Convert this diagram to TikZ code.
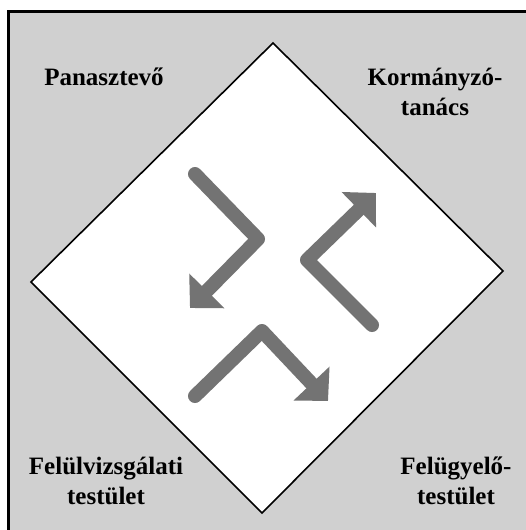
\documentclass[tikz,border=0pt]{standalone}
\usepackage{fontspec}
\setmainfont{Liberation Serif}
\usetikzlibrary{arrows.meta}
\definecolor{bggray}{RGB}{208,208,208}
\definecolor{arrowgray}{RGB}{115,115,115}

\begin{document}
\begin{tikzpicture}[x=1pt, y=-1pt,
  label/.style={font=\bfseries\fontsize{25}{30}\selectfont, align=center, inner sep=0pt},
  flow/.style={arrowgray, line width=14pt, line cap=round, line join=round,
    -{Triangle[length=24pt 0 0, width=48pt 0 0]}}]
  \useasboundingbox (0,0) rectangle (526,530);
  \fill[bggray] (8.5,11.5) rectangle (526,530);
  \draw[line width=3pt] (8.5,530) -- (8.5,11.5) -- (526,11.5);
  % diamond
  \draw[fill=white, line width=1.6pt] (273,43) -- (503,271) -- (262,513) -- (31,282) -- cycle;
  % labels
  \node[label] (pan) at (104,77) {Panasztevő};
  \node[label] (kor) at (435,92) {Kormányzó-\\tanács};
  \node[label] (fel) at (106,481) {Felülvizsgálati\\testület};
  \node[label] (fug) at (456,481) {Felügyelő-\\testület};
  % arrows
  \coordinate (a1) at (195,174); \coordinate (a1c) at (258,239); \coordinate (a1t) at (190,308);
  \coordinate (a2) at (372,325); \coordinate (a2c) at (307,260); \coordinate (a2t) at (376,193);
  \coordinate (a3) at (195,396); \coordinate (a3c) at (262,331); \coordinate (a3t) at (328,401);
  \draw[flow] (a1) -- (a1c) -- (a1t);
  \draw[flow] (a2) -- (a2c) -- (a2t);
  \draw[flow] (a3) -- (a3c) -- (a3t);
\end{tikzpicture}
\end{document}
